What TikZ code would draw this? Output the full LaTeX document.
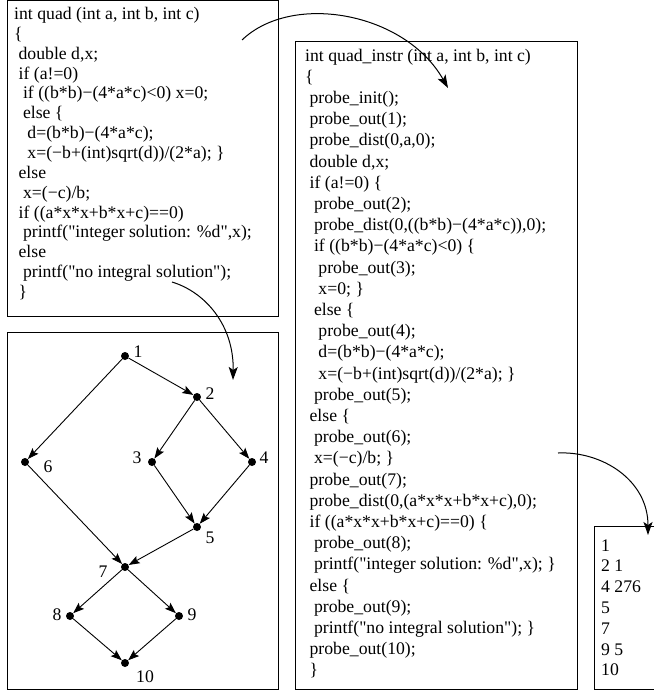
\documentclass[tikz,border=0pt]{standalone}
\usepackage{fontspec}
\setmainfont{Liberation Serif}[Ligatures=TeXOff]
\usetikzlibrary{arrows.meta}
\newcommand\ind[1]{\hspace*{#1\fontdimen2\font}}
\begin{document}
\begin{tikzpicture}[x=1pt,y=-1pt,
  code/.style={anchor=base west, inner sep=0pt, font=\fontsize{17.7}{20}\selectfont},
  box/.style={draw, line width=1pt},
  vtx/.style={circle, fill, inner sep=0pt, minimum size=8pt},
  lbl/.style={inner sep=0pt, font=\fontsize{17.7}{20}\selectfont},
  edge/.style={-{Stealth[length=11pt,width=8pt,inset=2pt]}, line width=0.9pt},
  bendarrow/.style={-{Stealth[length=13pt,width=9pt,inset=3pt]}, line width=1pt}]
\useasboundingbox (0,0) rectangle (654,691);

% boxes
\draw[box] (7,0.5) rectangle (278,316);
\draw[box] (7,332) rectangle (278,689);
\draw[box] (295.5,41) rectangle (577,689);
\draw[box] (654,526) -- (594,526) -- (594,689) -- (654,689);

% source code
\node[code] (s0) at (14,19.5) {int quad (int a, int b, int c)};
\node[code] (s1) at (14,39.35) {\{};
\node[code] (s2) at (14,59.2) {\ind{1}double d,x;};
\node[code] (s3) at (14,79.05) {\ind{1}if (a!=0)};
\node[code] (s4) at (14,98.9) {\ind{2}if ((b*b)−(4*a*c)<0) x=0;};
\node[code] (s5) at (14,118.75) {\ind{2}else \{};
\node[code] (s6) at (14,138.6) {\ind{3}d=(b*b)−(4*a*c);};
\node[code] (s7) at (14,158.45) {\ind{3}x=(−b+(int)sqrt(d))/(2*a); \}};
\node[code] (s8) at (14,178.3) {\ind{1}else};
\node[code] (s9) at (14,198.15) {\ind{2}x=(−c)/b;};
\node[code] (s10) at (14,218.0) {\ind{1}if ((a*x*x+b*x+c)==0)};
\node[code] (s11) at (14,237.85) {\ind{2}printf("integer solution: \%d",x);};
\node[code] (s12) at (14,257.7) {\ind{1}else};
\node[code] (s13) at (14,277.55) {\ind{2}printf("no integral solution");};
\node[code] (s14) at (14,297.4) {\ind{1}\}};

% instrumented code
\node[code] (i0) at (305,61.0) {int quad\_instr (int a, int b, int c)};
\node[code] (i1) at (305,82.2) {\{};
\node[code] (i2) at (305,103.4) {\ind{1}probe\_init();};
\node[code] (i3) at (305,124.6) {\ind{1}probe\_out(1);};
\node[code] (i4) at (305,145.8) {\ind{1}probe\_dist(0,a,0);};
\node[code] (i5) at (305,167.0) {\ind{1}double d,x;};
\node[code] (i6) at (305,188.2) {\ind{1}if (a!=0) \{};
\node[code] (i7) at (305,209.4) {\ind{2}probe\_out(2);};
\node[code] (i8) at (305,230.6) {\ind{2}probe\_dist(0,((b*b)−(4*a*c)),0);};
\node[code] (i9) at (305,251.8) {\ind{2}if ((b*b)−(4*a*c)<0) \{};
\node[code] (i10) at (305,273.0) {\ind{3}probe\_out(3);};
\node[code] (i11) at (305,294.2) {\ind{3}x=0; \}};
\node[code] (i12) at (305,315.4) {\ind{2}else \{};
\node[code] (i13) at (305,336.6) {\ind{3}probe\_out(4);};
\node[code] (i14) at (305,357.8) {\ind{3}d=(b*b)−(4*a*c);};
\node[code] (i15) at (305,379.0) {\ind{3}x=(−b+(int)sqrt(d))/(2*a); \}};
\node[code] (i16) at (305,400.2) {\ind{2}probe\_out(5);};
\node[code] (i17) at (305,421.4) {\ind{1}else \{};
\node[code] (i18) at (305,442.6) {\ind{2}probe\_out(6);};
\node[code] (i19) at (305,463.8) {\ind{2}x=(−c)/b; \}};
\node[code] (i20) at (305,485.0) {\ind{1}probe\_out(7);};
\node[code] (i21) at (305,506.2) {\ind{1}probe\_dist(0,(a*x*x+b*x+c),0);};
\node[code] (i22) at (305,527.4) {\ind{1}if ((a*x*x+b*x+c)==0) \{};
\node[code] (i23) at (305,548.6) {\ind{2}probe\_out(8);};
\node[code] (i24) at (305,569.8) {\ind{2}printf("integer solution: \%d",x); \}};
\node[code] (i25) at (305,591.0) {\ind{1}else \{};
\node[code] (i26) at (305,612.2) {\ind{2}probe\_out(9);};
\node[code] (i27) at (305,633.4) {\ind{2}printf("no integral solution"); \}};
\node[code] (i28) at (305,654.6) {\ind{1}probe\_out(10);};
\node[code] (i29) at (305,675.8) {\ind{1}\}};

% output trace
\node[code] (o0) at (601,551.0) {1};
\node[code] (o1) at (601,571.8) {2 1};
\node[code] (o2) at (601,592.6) {4 276};
\node[code] (o3) at (601,613.4) {5};
\node[code] (o4) at (601,634.2) {7};
\node[code] (o5) at (601,655.0) {9 5};
\node[code] (o6) at (601,675.8) {10};

% flow graph
\node[vtx] (n1) at (125,356) {};
\node[vtx] (n2) at (197,397) {};
\node[vtx] (n3) at (152,462) {};
\node[vtx] (n4) at (252,462) {};
\node[vtx] (n5) at (197,527) {};
\node[vtx] (n6) at (25,462) {};
\node[vtx] (n7) at (125,567) {};
\node[vtx] (n8) at (70,616) {};
\node[vtx] (n9) at (179,616) {};
\node[vtx] (n10) at (125,663) {};

\node[lbl] (l1) at (138,352) {1};
\node[lbl] (l2) at (210,394) {2};
\node[lbl] (l3) at (137,458) {3};
\node[lbl] (l4) at (264,458) {4};
\node[lbl] (l5) at (210,538) {5};
\node[lbl] (l6) at (48,467) {6};
\node[lbl] (l7) at (103,572) {7};
\node[lbl] (l8) at (57,615) {8};
\node[lbl] (l9) at (192,615) {9};
\node[lbl] (l10) at (145,677) {10};

\draw[edge] (n1) -- (n2);
\draw[edge] (n1) -- (n6);
\draw[edge] (n2) -- (n3);
\draw[edge] (n2) -- (n4);
\draw[edge] (n3) -- (n5);
\draw[edge] (n4) -- (n5);
\draw[edge] (n6) -- (n7);
\draw[edge] (n5) -- (n7);
\draw[edge] (n7) -- (n8);
\draw[edge] (n7) -- (n9);
\draw[edge] (n8) -- (n10);
\draw[edge] (n9) -- (n10);

% transformation arrows
\coordinate (a1s) at (242,40);
\coordinate (a1e) at (448,88);
\coordinate (a2s) at (172,282);
\coordinate (a2e) at (233,380);
\coordinate (a3s) at (558,453);
\coordinate (a3e) at (648,535);
\draw[bendarrow] (a1s) .. controls (292,-8) and (405,12) .. (a1e);
\draw[bendarrow] (a2s) .. controls (205,292) and (234,325) .. (a2e);
\draw[bendarrow] (a3s) .. controls (602,451) and (648,480) .. (a3e);
\end{tikzpicture}
\end{document}
